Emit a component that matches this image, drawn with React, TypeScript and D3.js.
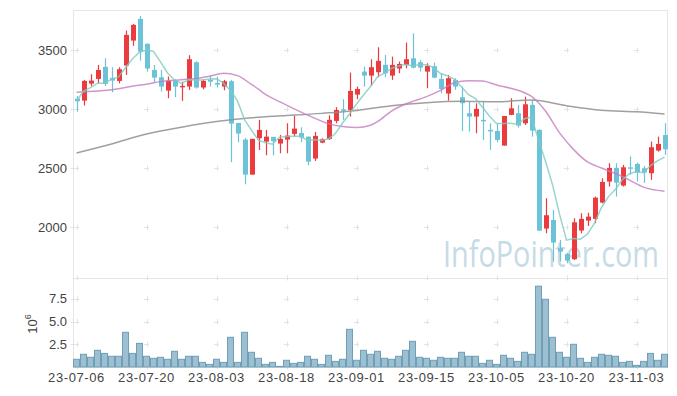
import React, { useEffect, useRef } from 'react';
import * as d3 from 'd3';

// trading days (KRX), 2023-07-06 .. 2023-11-09
const dates = [
  '2023-07-06', '2023-07-07', '2023-07-10', '2023-07-11', '2023-07-12', '2023-07-13', '2023-07-14',
  '2023-07-17', '2023-07-18', '2023-07-19', '2023-07-20', '2023-07-21', '2023-07-24', '2023-07-25',
  '2023-07-26', '2023-07-27', '2023-07-28', '2023-07-31',
  '2023-08-01', '2023-08-02', '2023-08-03', '2023-08-04', '2023-08-07', '2023-08-08', '2023-08-09',
  '2023-08-10', '2023-08-11', '2023-08-14', '2023-08-16', '2023-08-17', '2023-08-18', '2023-08-21',
  '2023-08-22', '2023-08-23', '2023-08-24', '2023-08-25', '2023-08-28', '2023-08-29', '2023-08-30',
  '2023-08-31',
  '2023-09-01', '2023-09-04', '2023-09-05', '2023-09-06', '2023-09-07', '2023-09-08', '2023-09-11',
  '2023-09-12', '2023-09-13', '2023-09-14', '2023-09-15', '2023-09-18', '2023-09-19', '2023-09-20',
  '2023-09-21', '2023-09-22', '2023-09-25', '2023-09-26', '2023-09-27',
  '2023-10-04', '2023-10-05', '2023-10-06', '2023-10-10', '2023-10-11', '2023-10-12', '2023-10-13',
  '2023-10-16', '2023-10-17', '2023-10-18', '2023-10-19', '2023-10-20', '2023-10-23', '2023-10-24',
  '2023-10-25', '2023-10-26', '2023-10-27', '2023-10-30', '2023-10-31',
  '2023-11-01', '2023-11-02', '2023-11-03', '2023-11-06', '2023-11-07', '2023-11-08', '2023-11-09'
];

const opens = [
  3090, 3073, 3217, 3257, 3359, 3266, 3240, 3370, 3582, 3766,
  3554, 3333, 3271, 3158, 3240, 3192, 3192, 3398, 3184, 3251,
  3223, 3192, 3237, 2884, 2743, 2446, 2754, 2726, 2766, 2709,
  2743, 2791, 2799, 2768, 2582, 2717, 2749, 2901, 3000, 2994,
  3124, 3319, 3285, 3314, 3376, 3285, 3345, 3376, 3432, 3398,
  3319, 3364, 3257, 3133, 3249, 3102, 2966, 2938, 2910, 2825,
  2816, 2692, 2952, 2966, 2881, 3037, 2825, 1989, 2062, 1822,
  1774, 1729, 1972, 2056, 2071, 2209, 2387, 2503, 2353, 2508,
  2537, 2500, 2458, 2650, 2782
];
const highs = [
  3113, 3249, 3297, 3376, 3432, 3356, 3356, 3667, 3723, 3791,
  3559, 3376, 3333, 3277, 3254, 3234, 3458, 3407, 3254, 3282,
  3277, 3249, 3249, 2884, 2757, 2749, 2910, 2825, 2766, 2782,
  2881, 2946, 2847, 2768, 2808, 2754, 2949, 3017, 3085, 3311,
  3192, 3362, 3424, 3525, 3460, 3446, 3404, 3565, 3644, 3418,
  3390, 3395, 3305, 3291, 3263, 3192, 3065, 3051, 3065, 2881,
  2881, 2943, 3093, 3037, 3107, 3079, 2830, 2246, 2147, 1893,
  1785, 2076, 2119, 2124, 2260, 2415, 2543, 2543, 2529, 2600,
  2548, 2520, 2726, 2768, 2881
];
const lows = [
  2980, 3031, 3198, 3220, 3198, 3144, 3220, 3291, 3537, 3412,
  3319, 3229, 3150, 3093, 3102, 3071, 3164, 3175, 3169, 3192,
  3184, 3161, 2551, 2720, 2364, 2446, 2655, 2610, 2610, 2627,
  2627, 2768, 2723, 2525, 2562, 2712, 2740, 2881, 2910, 2938,
  3085, 3192, 3198, 3271, 3271, 3249, 3305, 3347, 3347, 3319,
  3178, 3263, 3136, 3073, 3164, 2816, 2811, 2797, 2740, 2655,
  2720, 2692, 2950, 2845, 2867, 2768, 1971, 1949, 1709, 1709,
  1695, 1723, 1949, 2011, 2034, 2203, 2345, 2260, 2345, 2444,
  2387, 2376, 2402, 2641, 2613
];
const closes = [
  3068, 3240, 3243, 3333, 3215, 3243, 3339, 3630, 3715, 3489,
  3345, 3268, 3192, 3243, 3192, 3198, 3424, 3184, 3240, 3234,
  3209, 3237, 2878, 2794, 2446, 2749, 2825, 2768, 2729, 2749,
  2777, 2836, 2760, 2556, 2774, 2746, 2910, 2994, 2994, 3155,
  3172, 3285, 3356, 3410, 3305, 3376, 3384, 3424, 3353, 3353,
  3367, 3268, 3172, 3263, 3192, 3051, 2938, 3003, 2898, 2816,
  2740, 2943, 3008, 2862, 3042, 2819, 1971, 2102, 1870, 1794,
  1717, 2042, 2071, 2090, 2251, 2384, 2503, 2378, 2508, 2500,
  2464, 2464, 2678, 2706, 2661
];
// volume, millions of shares
const volumes = [
  0.85, 1.4, 1.07, 1.84, 1.5, 1.18, 1.18, 3.82, 1.5, 2.6,
  1.18, 0.96, 1.07, 0.85, 1.73, 0.85, 1.18, 1.18, 0.51, 0.29,
  0.85, 0.51, 3.27, 0.51, 3.82, 1.62, 0.96, 0.29, 0.51, 0.07,
  0.74, 0.4, 0.51, 1.18, 0.85, 0.29, 1.29, 0.62, 0.85, 4.15,
  0.74, 1.84, 1.4, 1.73, 0.96, 0.85, 1.18, 1.84, 2.83, 1.07,
  0.96, 0.74, 1.07, 0.96, 0.96, 1.62, 1.18, 1.18, 0.4, 0.74,
  0.29, 1.29, 0.96, 0.62, 1.62, 1.4, 8.9, 7.46, 3.27, 1.62,
  1.07, 2.5, 0.96, 0.51, 1.07, 1.4, 1.29, 1.18, 0.51, 0.62,
  0.18, 0.62, 1.5, 0.74, 1.4
];

// 20- and 60-day averages: [day index, value]
const ma20 = [
  [0, 3144], [3, 3155], [5, 3165], [8, 3195], [10, 3212], [12, 3234], [15, 3250], [17, 3260],
  [19, 3280], [21, 3305], [23, 3285], [25, 3210], [26, 3170], [27, 3125], [29, 3064], [32, 2978],
  [34, 2925], [36, 2878], [38, 2853], [40, 2845], [42, 2865], [43, 2895], [45, 2985], [47, 3045],
  [50, 3107], [52, 3160], [54, 3225], [56, 3242], [58, 3240], [60, 3205], [62, 3178], [64, 3140],
  [65, 3110], [67, 2985], [69, 2800], [71, 2660], [73, 2553], [75, 2502], [77, 2455], [79, 2400],
  [81, 2340], [84, 2305]
];
const ma60 = [
  [0, 2630], [5, 2706], [10, 2790], [15, 2848], [20, 2896], [25, 2928], [30, 2946], [35, 2965],
  [40, 2990], [45, 3030], [50, 3056], [55, 3068], [60, 3064], [65, 3078], [70, 3030], [75, 2992],
  [80, 2978], [84, 2960]
];

const priceTicks = [2000, 2500, 3000, 3500];
const volTicks = [2.5, 5, 7.5];
const tickEvery = 10;

const W = 677, H = 396;
const left = 73, right = 667, top = 10, mid = 278, bottom = 367;
const font = '"Liberation Sans", Arial, sans-serif';

export default function App() {
  const ref = useRef<SVGSVGElement>(null);

  useEffect(() => {
    const svg = d3.select(ref.current);
    svg.selectAll('*').remove();
    const n = dates.length;

    const x = d3.scaleBand<number>().domain(d3.range(n)).range([left, right + 1]);
    const cx = (i: number) => (x(i) as number) + x.bandwidth() / 2;
    const y = d3.scaleLinear().domain([1570, 3841]).range([mid, top]);
    const yv = d3.scaleLinear().domain([0, 9.8]).range([bottom, mid]);
    const tickIdx = d3.range(0, n, tickEvery);

    svg.append('rect').attr('width', W).attr('height', H).attr('fill', '#fff');

    // watermark
    svg.append('text')
      .attr('x', 443).attr('y', 267)
      .attr('font-family', '"Open Sans", sans-serif')
      .attr('font-size', 36)
      .attr('textLength', 216)
      .attr('lengthAdjust', 'spacingAndGlyphs')
      .attr('fill', '#c6dbe6')
      .text('InfoPointer.com');

    // panel frames
    const frame = svg.append('g').attr('fill', 'none').attr('stroke', '#e6e6e6');
    frame.append('rect').attr('x', left + 0.5).attr('y', top + 0.5)
      .attr('width', right - left).attr('height', bottom - top);
    frame.append('line').attr('x1', left).attr('x2', right).attr('y1', mid + 0.5).attr('y2', mid + 0.5);

    // grid crosses
    const crosses: [number, number][] = [];
    tickIdx.forEach(i => {
      priceTicks.forEach(p => crosses.push([cx(i), y(p)]));
      volTicks.forEach(v => crosses.push([cx(i), yv(v)]));
      crosses.push([cx(i), mid], [cx(i), bottom]);
    });
    priceTicks.forEach(p => crosses.push([left, y(p)]));
    volTicks.forEach(v => crosses.push([left, yv(v)]));
    svg.append('g').attr('stroke', '#e2e2e2').attr('stroke-width', 1)
      .selectAll('path').data(crosses).enter().append('path')
      .attr('d', d => `M${d[0] - 2.5},${Math.round(d[1]) + 0.5}h5M${Math.round(d[0]) + 0.5},${d[1] - 2.5}v5`);

    // candles
    const up = '#ec3b3f', down = '#6cc3d8';
    const candles = svg.append('g').selectAll('g').data(d3.range(n)).enter().append('g')
      .attr('fill', i => closes[i] >= opens[i] ? up : down)
      .attr('stroke', i => closes[i] >= opens[i] ? up : down);
    candles.append('line')
      .attr('x1', i => Math.round(cx(i)) + 0.5).attr('x2', i => Math.round(cx(i)) + 0.5)
      .attr('y1', i => y(highs[i])).attr('y2', i => y(lows[i]))
      .attr('stroke-width', 1.2);
    candles.append('rect')
      .attr('stroke', 'none')
      .attr('x', i => Math.round(cx(i)) - 2)
      .attr('width', 5)
      .attr('y', i => y(Math.max(opens[i], closes[i])))
      .attr('height', i => Math.max(1.5, Math.abs(y(opens[i]) - y(closes[i]))));

    // moving averages
    const ma5 = d3.range(n).map(i => d3.mean(closes.slice(Math.max(0, i - 4), i + 1)) as number);
    const line = d3.line<[number, number]>()
      .x(d => cx(d[0])).y(d => y(d[1])).curve(d3.curveMonotoneX);
    svg.append('path').datum(ma60 as [number, number][])
      .attr('d', line).attr('fill', 'none').attr('stroke', '#8f8f8f').attr('stroke-width', 1.5).attr('opacity', 0.85);
    svg.append('path').datum(ma20 as [number, number][])
      .attr('d', line).attr('fill', 'none').attr('stroke', '#c47dbd').attr('stroke-width', 1.5).attr('opacity', 0.8);
    svg.append('path').datum(ma5.map((v, i) => [i, v] as [number, number]))
      .attr('d', line.curve(d3.curveLinear)).attr('fill', 'none').attr('stroke', '#7fcac0').attr('stroke-width', 1.5).attr('opacity', 0.8);

    // volume bars
    svg.append('g').selectAll('rect').data(d3.range(n)).enter().append('rect')
      .attr('x', i => (x(i) as number) + 0.5)
      .attr('width', x.bandwidth() - 1)
      .attr('y', i => yv(volumes[i]))
      .attr('height', i => bottom - yv(volumes[i]))
      .attr('fill', '#9cc0d1')
      .attr('stroke', '#6e9fb6')
      .attr('stroke-width', 1);

    // axis labels
    const lab = svg.append('g').attr('font-family', font).attr('font-size', 13).attr('fill', '#444');
    lab.selectAll('.py').data(priceTicks).enter().append('text')
      .attr('x', 67).attr('y', d => y(d)).attr('dy', '0.35em').attr('text-anchor', 'end')
      .text(d => d3.format('d')(d));
    lab.selectAll('.vy').data(volTicks).enter().append('text')
      .attr('x', 67).attr('y', d => yv(d)).attr('dy', '0.35em').attr('text-anchor', 'end')
      .text(d => d3.format('.1f')(d));
    lab.selectAll('.dx').data(tickIdx).enter().append('text')
      .attr('x', i => cx(i)).attr('y', 382).attr('text-anchor', 'middle')
      .attr('letter-spacing', 0.6)
      .text(i => dates[i].slice(2));

    const unit = lab.append('text')
      .attr('transform', 'translate(37,324) rotate(-90)')
      .attr('text-anchor', 'middle');
    unit.append('tspan').text('10');
    unit.append('tspan').attr('dy', -6).attr('font-size', 9).text('6');
  }, []);

  return (
    <svg ref={ref} width={W} height={H}
         style={{ position: 'absolute', left: 0, top: 0, display: 'block' }} />
  );
}
